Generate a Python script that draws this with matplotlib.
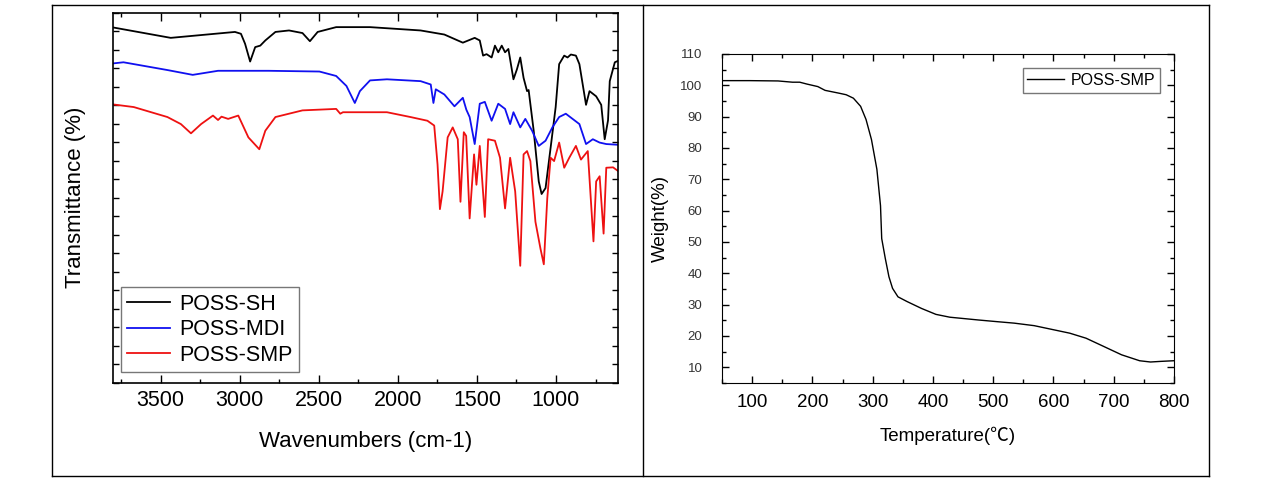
import numpy as np
import matplotlib
matplotlib.use("Agg")
import matplotlib.pyplot as plt
from matplotlib.lines import Line2D
from matplotlib.ticker import MultipleLocator

plt.rcParams['font.family'] = ['Liberation Sans', 'Noto Sans CJK SC', 'DejaVu Sans']

# FTIR spectra: (wavenumber cm-1, transmittance)
sh_wn = [3799, 3436, 3030, 2992, 2966, 2934, 2902, 2870, 2838, 2774, 2688, 2603, 2556,
         2507, 2390, 2176, 1856, 1706, 1621, 1589, 1514, 1482, 1461, 1439, 1407, 1386,
         1365, 1343, 1322, 1301, 1269, 1247, 1226, 1205, 1183, 1173, 1141, 1109, 1091,
         1066, 1034, 1002, 980, 948, 927, 906, 874, 852, 810, 788, 746, 714, 692, 671,
         660, 628, 607]
sh_t = [96.0, 93.2, 94.8, 94.3, 91.6, 86.8, 90.7, 91.1, 92.5, 94.8, 95.2, 94.5, 92.3,
        94.8, 96.1, 96.1, 95.2, 94.1, 92.5, 91.9, 93.2, 92.5, 88.4, 88.8, 87.9, 91.1,
        89.3, 91.1, 89.3, 90.2, 82.0, 84.7, 87.9, 82.4, 78.8, 79.1, 68.1, 54.4, 51.0,
        52.6, 63.5, 74.5, 86.1, 88.4, 87.9, 88.7, 88.4, 86.1, 75.1, 78.8, 77.4, 75.1,
        65.8, 70.9, 81.5, 86.6, 87.0]

mdi_wn = [3799, 3735, 3457, 3297, 3137, 2817, 2496, 2390, 2325, 2272, 2240, 2176, 2069,
          1856, 1792, 1775, 1760, 1706, 1642, 1589, 1567, 1546, 1514, 1482, 1450, 1407,
          1365, 1322, 1290, 1269, 1226, 1194, 1151, 1109, 1066, 1023, 980, 938, 895,
          852, 810, 767, 724, 682, 607]
mdi_t = [86.3, 86.6, 84.5, 83.2, 84.3, 84.3, 84.1, 82.9, 80.2, 75.6, 78.8, 81.7, 82.0,
         81.5, 80.6, 75.6, 79.3, 77.9, 74.7, 77.0, 73.8, 71.8, 64.5, 75.4, 75.9, 70.8,
         75.4, 74.0, 69.9, 73.1, 69.0, 71.3, 68.1, 64.0, 65.4, 69.0, 71.8, 72.7, 71.3,
         69.9, 64.5, 65.8, 64.9, 64.5, 64.3]

smp_wn = [3799, 3670, 3457, 3372, 3308, 3244, 3169, 3137, 3115, 3073, 3009, 2945, 2876,
          2838, 2774, 2603, 2390, 2364, 2347, 2069, 1920, 1813, 1770, 1749, 1734, 1717,
          1685, 1653, 1621, 1604, 1583, 1568, 1546, 1518, 1503, 1482, 1450, 1429, 1386,
          1354, 1322, 1290, 1258, 1226, 1205, 1183, 1162, 1130, 1098, 1077, 1055, 1034,
          1012, 980, 948, 916, 874, 842, 799, 763, 746, 724, 699, 682, 639, 607]
smp_t = [75.2, 74.5, 71.8, 69.9, 67.4, 69.9, 72.2, 71.0, 71.9, 71.3, 72.2, 66.3, 63.1,
         68.1, 71.8, 73.6, 74.0, 72.7, 73.1, 73.1, 71.8, 70.8, 69.5, 59.0, 46.9, 51.7,
         66.3, 69.0, 65.8, 48.9, 67.7, 66.7, 44.4, 61.7, 53.5, 64.0, 44.8, 65.8, 65.4,
         60.8, 47.1, 60.8, 51.7, 31.6, 61.7, 62.6, 59.9, 43.5, 36.2, 32.0, 49.9, 60.8,
         59.9, 64.9, 58.1, 60.8, 64.0, 60.3, 62.6, 38.2, 54.4, 55.8, 40.3, 58.1, 58.2,
         57.2]

# TGA curve
tga_temp = [51, 96, 143, 167, 179, 191, 209, 221, 244, 256, 268, 280, 289, 298, 307,
            313, 315, 321, 327, 333, 342, 357, 381, 405, 428, 476, 505, 535, 568, 600,
            627, 654, 683, 713, 743, 761, 778, 799]
tga_w = [101.5, 101.5, 101.4, 101.0, 101.0, 100.4, 99.6, 98.4, 97.5, 97.0, 95.9, 93.3,
         89.1, 82.7, 73.2, 61.6, 51.1, 44.7, 38.9, 35.2, 32.5, 31.0, 28.8, 26.9, 26.0,
         25.1, 24.6, 24.1, 23.3, 22.0, 20.9, 19.3, 16.7, 14.0, 12.1, 11.7, 11.9, 12.1]

W, H = 1262, 478
fig = plt.figure(figsize=(W / 100, H / 100), dpi=100)


def px(x0, y0, x1, y1):
    return [x0 / W, 1 - y1 / H, (x1 - x0) / W, (y1 - y0) / H]


# outer table frame
for (xa, ya, xb, yb) in [(52, 5, 1209, 5), (52, 476, 1209, 476), (52, 5, 52, 476),
                         (1209, 5, 1209, 476), (643, 5, 643, 476)]:
    fig.add_artist(Line2D([xa / W, xb / W], [1 - ya / H, 1 - yb / H],
                          color='black', lw=1.0))

# ---- left: FTIR
ax1 = fig.add_axes(px(112.7, 12.7, 618.3, 382.7))
ax1.plot(sh_wn, sh_t, color='black', lw=1.3, label='POSS-SH')
ax1.plot(mdi_wn, mdi_t, color='#1010f0', lw=1.3, label='POSS-MDI')
ax1.plot(smp_wn, smp_t, color='#ee1111', lw=1.3, label='POSS-SMP')
ax1.set_xlim(3803, 606)
ax1.set_ylim(0, 100)
ax1.xaxis.set_major_locator(MultipleLocator(500))
ax1.xaxis.set_minor_locator(MultipleLocator(250))
ax1.yaxis.set_major_locator(MultipleLocator(5))
ax1.set_yticklabels([])
ax1.tick_params(which='both', direction='in', top=True, right=True, labelsize=15.5)
ax1.tick_params(which='major', length=6, width=1)
ax1.tick_params(axis='y', which='major', length=4)
ax1.tick_params(which='minor', length=3, width=1)
ax1.tick_params(axis='x', pad=5)
ax1.set_xlabel('Wavenumbers (cm-1)', fontsize=16, labelpad=15)
ax1.set_ylabel('Transmittance (%)', fontsize=16, labelpad=16)
for s in ax1.spines.values():
    s.set_linewidth(1.2)
leg = ax1.legend(loc='lower left', bbox_to_anchor=(0.016, 0.029), borderaxespad=0,
                 fontsize=15.5, frameon=True, fancybox=False, framealpha=1,
                 edgecolor='#777777', handlelength=2.0, handletextpad=0.4,
                 labelspacing=0.2, borderpad=0.3)
leg.get_frame().set_linewidth(1.0)

# ---- right: TGA
ax2 = fig.add_axes(px(722, 54, 1174, 383))
ax2.plot(tga_temp, tga_w, color='black', lw=1.0, label='POSS-SMP')
ax2.set_xlim(50, 800)
ax2.set_ylim(5, 110)
ax2.xaxis.set_major_locator(MultipleLocator(100))
ax2.xaxis.set_minor_locator(MultipleLocator(50))
ax2.yaxis.set_minor_locator(MultipleLocator(5))
ax2.set_yticks(np.arange(10, 111, 10))
ax2.tick_params(which='both', direction='in', top=True, right=True)
ax2.tick_params(which='major', length=5, width=1)
ax2.tick_params(which='minor', length=3, width=1)
ax2.tick_params(axis='x', labelsize=13.5, pad=8)
ax2.tick_params(axis='y', labelsize=9.5, labelcolor='#333333', pad=14)
ax2.set_xlabel('Temperature(℃)', fontsize=13.5, labelpad=11)
ax2.set_ylabel('Weight(%)', fontsize=13.5, labelpad=8)
leg2 = ax2.legend(loc='upper right', bbox_to_anchor=(0.969, 0.957), borderaxespad=0,
                  fontsize=11.5, frameon=True, fancybox=False, framealpha=1,
                  edgecolor='#777777', handlelength=2.3, handletextpad=0.4,
                  borderpad=0.3)
leg2.get_frame().set_linewidth(1.0)

fig.savefig('out.png', dpi=100)
